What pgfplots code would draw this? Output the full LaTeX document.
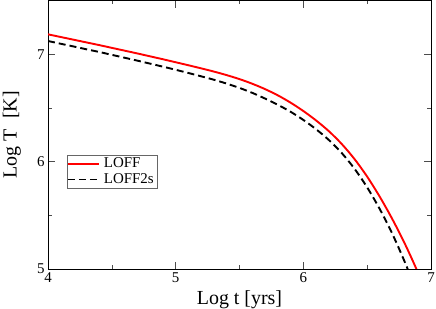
\documentclass[border=0pt]{standalone}
\usepackage{fontspec}
\setmainfont{Liberation Serif}
\usepackage{pgfplots}
\pgfplotsset{compat=1.18}
\begin{document}
\begin{tikzpicture}
\begin{axis}[
  scale only axis, width=383bp, height=268.5bp,
  xmin=4, xmax=7, ymin=5, ymax=7.5,
  xtick={4,5,6,7}, ytick={5,6,7},
  minor x tick num=1, minor y tick num=1,
  tick align=inside, major tick length=7bp, minor tick length=4bp,
  every tick/.style={black!70, line width=0.6bp},
  axis line style={line width=0.8bp},
  /pgf/number format/assume math mode=true,
  tick label style={font=\fontsize{15}{15}\selectfont},
  xticklabel={\pgfmathprintnumber[assume math mode=true]{\tick}},
  yticklabel={\pgfmathprintnumber[assume math mode=true]{\tick}},
  label style={font=\fontsize{20}{20}\selectfont},
  xlabel={Log t [yrs]}, ylabel={Log T\ \ [K]},
  xlabel style={at={(axis description cs:0.5,-0.1304)}, anchor=base},
  ylabel style={at={(axis description cs:-0.0817,0.5)}, anchor=base},
  legend style={at={(axis description cs:0.0488,0.4257)}, anchor=north west,
    draw=black!60, line width=0.6bp, inner xsep=0bp, inner ysep=1.3bp,
    font=\fontsize{15}{15}\selectfont,
    nodes={inner xsep=4bp, inner ysep=1bp, text height=10.5bp, text depth=3bp}},
  legend cell align=left,
  legend image code/.code={\draw[#1] (0bp,0bp) -- (31bp,0bp);},
]
\addplot[red, line width=1.9bp, smooth] coordinates {
(4.0,7.185) (4.1,7.160) (4.2,7.135) (4.3,7.110) (4.4,7.085) (4.5,7.059)
(4.6,7.033) (4.7,7.007) (4.8,6.980) (4.9,6.953) (5.0,6.925) (5.1,6.897)
(5.2,6.868) (5.3,6.838) (5.4,6.805) (5.5,6.768) (5.6,6.725) (5.7,6.675)
(5.8,6.617) (5.9,6.549) (6.0,6.471) (6.1,6.383) (6.2,6.283) (6.3,6.165)
(6.4,6.025) (6.5,5.860) (6.6,5.670) (6.7,5.458) (6.8,5.223) (6.9,4.961)
(7.0,4.67)
};
\addlegendentry{LOFF}
\addplot[black, line width=1.9bp, dash pattern=on 7bp off 4bp, smooth] coordinates {
(4.0,7.123) (4.1,7.097) (4.2,7.072) (4.3,7.046) (4.4,7.021) (4.5,6.994)
(4.6,6.967) (4.7,6.940) (4.8,6.912) (4.9,6.884) (5.0,6.855) (5.1,6.825)
(5.2,6.794) (5.3,6.762) (5.4,6.726) (5.5,6.686) (5.6,6.640) (5.7,6.587)
(5.8,6.529) (5.9,6.464) (6.0,6.388) (6.1,6.301) (6.2,6.201) (6.3,6.081)
(6.4,5.935) (6.5,5.760) (6.6,5.555) (6.7,5.320) (6.8,5.050) (6.9,4.75)
};
\addlegendentry{LOFF2s}
\end{axis}
\pgfresetboundingbox
\path (current axis.south west) ++(-48bp,-40bp) coordinate (bbA);
\path (current axis.north east) ++(5bp,0.5bp) coordinate (bbB);
\path (bbA) rectangle (bbB);
\end{tikzpicture}
\end{document}
